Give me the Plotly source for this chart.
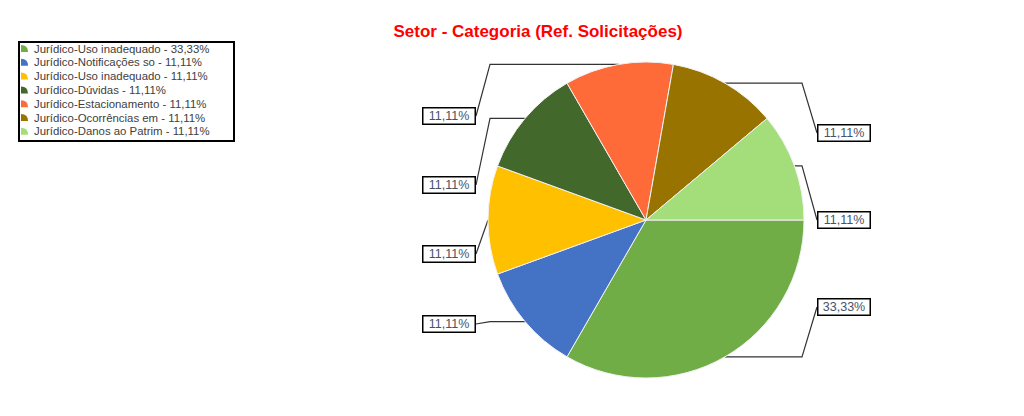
import math
import plotly.graph_objects as go

# ---- data ----
categories = [
    "Jurídico-Uso inadequado",
    "Jurídico-Notificações so",
    "Jurídico-Uso inadequado",
    "Jurídico-Dúvidas",
    "Jurídico-Estacionamento",
    "Jurídico-Ocorrências em",
    "Jurídico-Danos ao Patrim",
]
values = [3, 1, 1, 1, 1, 1, 1]
colors = ["#70AD47", "#4472C4", "#FFC000", "#43682B", "#FF6A39", "#997300", "#A3DE7A"]
title_text = "Setor - Categoria (Ref. Solicitações)"

# ---- layout constants (pixels in the screenshot) ----
W, H = 1024, 416
OFF = 8  # page body margin
CX, CY, R = 646, 220, 158
LEFT_ELBOW_X, RIGHT_ELBOW_X = 490, 802
LEFT_LABEL_X, RIGHT_LABEL_X = 476, 817
LABEL_Y = [307, 324, 254, 185, 116, 133, 220]  # per-slice label centre y


def px(x):
    return (x - OFF) / W


def py(y):
    return 1 - (y - OFF) / H


def fmt_pct(v, total):
    return f"{100 * v / total:.2f}".replace(".", ",") + "%"


total = sum(values)
pcts = [fmt_pct(v, total) for v in values]

fig = go.Figure()
fig.add_trace(go.Pie(
    labels=[f"{c} #{i}" for i, c in enumerate(categories)],
    values=values,
    sort=False,
    direction="clockwise",
    rotation=90,
    marker=dict(colors=colors, line=dict(color="#F2F2F2", width=1)),
    textinfo="none",
    hoverinfo="label+percent",
    showlegend=False,
    domain=dict(x=[px(CX - R), px(CX + R)], y=[py(CY + R), py(CY - R)]),
))

shapes = []
annotations = []

# leader lines and labels
cum = 0
for i, v in enumerate(values):
    mid = 2 * math.pi * (cum + v / 2) / total
    cum += v
    ex = CX + R * math.cos(mid)
    ey = CY + R * math.sin(mid)
    ly = LABEL_Y[i]
    if ex < CX:
        elbow_x, end_x, anchor, lab_x = LEFT_ELBOW_X, LEFT_LABEL_X, "right", LEFT_LABEL_X
    else:
        elbow_x, end_x, anchor, lab_x = RIGHT_ELBOW_X, RIGHT_LABEL_X, "left", RIGHT_LABEL_X
    if (ex < CX and ex > elbow_x) or (ex >= CX and ex < elbow_x):
        path = f"M {px(ex)},{py(ey)} L {px(elbow_x)},{py(ey)} L {px(end_x)},{py(ly)}"
    else:
        path = f"M {px(ex)},{py(ey)} L {px(end_x)},{py(ly)}"
    shapes.append(dict(type="path", xref="paper", yref="paper", path=path,
                       line=dict(color="#333333", width=1.2), layer="below"))
    annotations.append(dict(
        x=px(lab_x), y=py(ly), xref="paper", yref="paper",
        xanchor=anchor, yanchor="middle", showarrow=False,
        text=pcts[i], font=dict(family="Liberation Sans, Arial", size=12.5, color="#44546A"),
        width=49, height=13, align="center",
        bgcolor="white", bordercolor="black", borderwidth=1.5, borderpad=1,
    ))

# custom legend
LEG_X0, LEG_Y0, LEG_X1, LEG_Y1 = 19, 42, 234, 141
LEG_ROW0, LEG_STEP = 48.5, 13.8
shapes.append(dict(type="rect", xref="paper", yref="paper",
                   x0=px(LEG_X0), x1=px(LEG_X1), y0=py(LEG_Y1), y1=py(LEG_Y0),
                   line=dict(color="black", width=2), fillcolor="white", layer="below"))
for i, (c, p, col) in enumerate(zip(categories, pcts, colors)):
    yc = LEG_ROW0 + i * LEG_STEP
    x0, yb, s = 21, yc + 3.5, 7
    path = (f"M {px(x0)},{py(yb)} L {px(x0 + s)},{py(yb)} "
            f"Q {px(x0 + s)},{py(yb - s)} {px(x0)},{py(yb - s)} Z")
    shapes.append(dict(type="path", xref="paper", yref="paper", path=path,
                       fillcolor=col, line=dict(width=0)))
    annotations.append(dict(
        x=px(32), y=py(yc), xref="paper", yref="paper",
        xanchor="left", yanchor="middle", showarrow=False,
        text=f"{c} - {p}", font=dict(family="Liberation Sans, Arial", size=11.4, color="#404040"),
    ))

fig.update_layout(
    width=W, height=H,
    margin=dict(l=0, r=0, t=0, b=0),
    paper_bgcolor="white", plot_bgcolor="white",
    title=dict(text=f"<b>{title_text}</b>", x=px(538), y=py(31),
               xanchor="center", yanchor="middle",
               font=dict(family="Liberation Sans, Arial", size=17, color="#FF0000")),
    shapes=shapes, annotations=annotations,
    showlegend=False,
)

fig.write_html("out.html")
